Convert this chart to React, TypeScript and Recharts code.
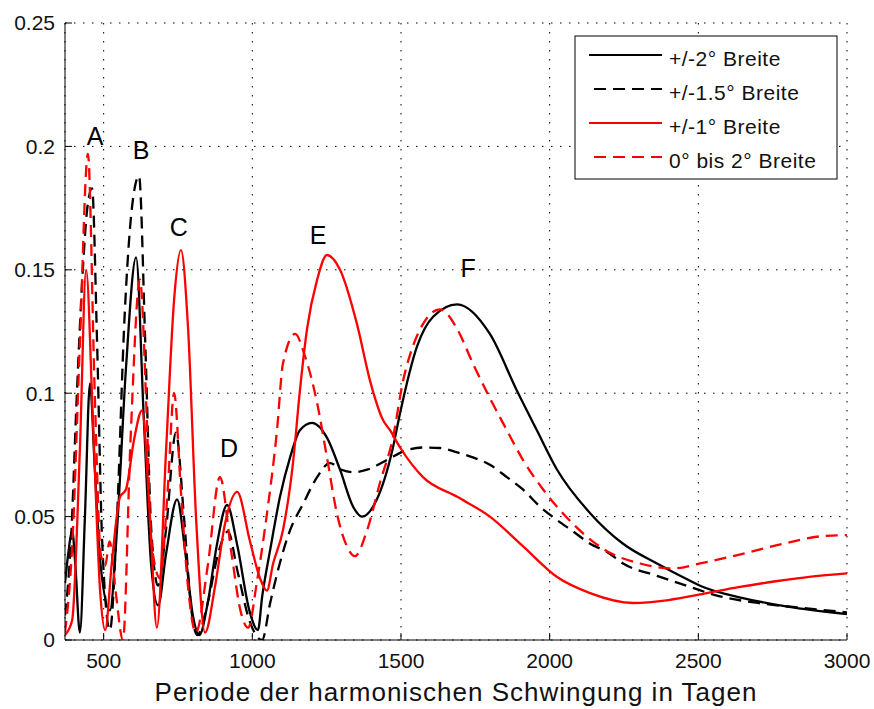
import { LineChart, Line, XAxis, YAxis, CartesianGrid, ReferenceDot } from 'recharts';

const FONT = '"Liberation Sans", Arial, Helvetica, sans-serif';

// axis ticks
const xTicks = [500, 1000, 1500, 2000, 2500, 3000];
const yTicks = [0, 0.05, 0.1, 0.15, 0.2, 0.25];

// +/-2° Breite (solid black)
const deg2Period = [370, 382, 394, 405, 420, 437, 454, 470, 490, 521, 545, 575, 609, 635, 660, 683, 710, 747, 775, 800, 822, 850, 880, 915, 950, 990, 1019, 1033, 1060, 1093, 1127, 1160, 1201, 1251, 1295, 1339, 1369, 1419, 1473, 1497, 1554, 1608, 1689, 1799, 1890, 1957, 2025, 2136, 2247, 2361, 2472, 2506, 2650, 2800, 3000];
const deg2Value = [0.023, 0.036, 0.0445, 0.03, 0.003, 0.05, 0.104, 0.07, 0.03, 0.012, 0.045, 0.11, 0.155, 0.09, 0.03, 0.014, 0.035, 0.057, 0.035, 0.01, 0.002, 0.015, 0.038, 0.0547, 0.038, 0.012, 0.004, 0.0175, 0.0365, 0.058, 0.074, 0.085, 0.088, 0.082, 0.069, 0.054, 0.05, 0.057, 0.078, 0.092, 0.119, 0.131, 0.136, 0.124, 0.101, 0.085, 0.069, 0.0514, 0.039, 0.031, 0.024, 0.022, 0.017, 0.0135, 0.0105];

// +/-1.5° Breite (dashed black)
const deg15Period = [370, 390, 410, 430, 445, 461, 478, 495, 521, 545, 570, 595, 619, 640, 660, 683, 710, 743, 770, 795, 815, 850, 885, 918, 950, 990, 1033, 1060, 1090, 1127, 1170, 1218, 1261, 1300, 1340, 1386, 1453, 1520, 1574, 1631, 1689, 1742, 1799, 1856, 1910, 1968, 2025, 2079, 2136, 2193, 2247, 2361, 2472, 2563, 2700, 2850, 3000];
const deg15Value = [0.01, 0.04, 0.1, 0.15, 0.175, 0.183, 0.12, 0.04, 0.004, 0.05, 0.13, 0.175, 0.188, 0.12, 0.045, 0.022, 0.045, 0.084, 0.05, 0.012, 0.002, 0.015, 0.035, 0.044, 0.028, 0.008, 0.0, 0.015, 0.03, 0.0445, 0.055, 0.066, 0.0717, 0.069, 0.068, 0.069, 0.073, 0.077, 0.078, 0.0778, 0.076, 0.074, 0.071, 0.066, 0.061, 0.054, 0.0486, 0.044, 0.039, 0.0357, 0.031, 0.026, 0.0215, 0.018, 0.015, 0.013, 0.0112];

// +/-1° Breite (solid red)
const deg1Period = [370, 394, 420, 441, 464, 488, 505, 528, 555, 575, 602, 629, 656, 679, 710, 737, 760, 784, 811, 841, 875, 908, 949, 992, 1026, 1049, 1070, 1103, 1137, 1160, 1184, 1218, 1251, 1295, 1352, 1396, 1440, 1463, 1497, 1574, 1689, 1799, 1910, 2025, 2136, 2280, 2400, 2520, 2640, 2760, 2880, 3000];
const deg1Value = [0.002, 0.008, 0.077, 0.15, 0.089, 0.02, 0.004, 0.032, 0.058, 0.061, 0.081, 0.093, 0.049, 0.005, 0.077, 0.138, 0.158, 0.126, 0.049, 0.003, 0.022, 0.047, 0.06, 0.04, 0.025, 0.02, 0.031, 0.0445, 0.072, 0.101, 0.126, 0.146, 0.156, 0.15, 0.128, 0.105, 0.089, 0.085, 0.078, 0.066, 0.058, 0.05, 0.038, 0.0255, 0.019, 0.015, 0.0162, 0.0188, 0.0215, 0.0238, 0.0257, 0.027];

// 0° bis 2° Breite (dashed red)
const deg02Period = [370, 395, 420, 447, 470, 490, 505, 520, 540, 565, 590, 622, 645, 660, 690, 715, 737, 760, 785, 810, 850, 891, 930, 960, 986, 1016, 1049, 1083, 1103, 1144, 1177, 1218, 1251, 1285, 1318, 1345, 1386, 1430, 1473, 1507, 1540, 1574, 1631, 1689, 1742, 1799, 1856, 1910, 1978, 2079, 2193, 2304, 2415, 2506, 2617, 2785, 2910, 3000];
const deg02Value = [0.003, 0.04, 0.12, 0.197, 0.1, 0.035, 0.03, 0.04, 0.02, 0.0, 0.08, 0.146, 0.09, 0.04, 0.025, 0.06, 0.1, 0.06, 0.02, 0.003, 0.03, 0.066, 0.035, 0.012, 0.005, 0.024, 0.051, 0.085, 0.112, 0.124, 0.115, 0.096, 0.074, 0.051, 0.038, 0.034, 0.0445, 0.064, 0.082, 0.105, 0.119, 0.128, 0.134, 0.126, 0.112, 0.098, 0.085, 0.073, 0.061, 0.047, 0.036, 0.031, 0.029, 0.031, 0.034, 0.039, 0.042, 0.0425];

// peak letters
const peakLetters = ['A', 'B', 'C', 'D', 'E', 'F'];
const peakPeriod = [471, 626, 753, 922, 1221, 1726];
const peakValue = [0.2042, 0.1985, 0.1673, 0.0778, 0.164, 0.1507];

const DASH = '12 7';

function toPoints(periods: number[], values: number[]) {
  return periods.map((x, i) => ({ x, y: values[i] }));
}

const series = [
  { name: '+/-2° Breite', data: toPoints(deg2Period, deg2Value), color: '#000000', dash: undefined },
  { name: '+/-1.5° Breite', data: toPoints(deg15Period, deg15Value), color: '#000000', dash: DASH },
  { name: '+/-1° Breite', data: toPoints(deg1Period, deg1Value), color: '#ff0000', dash: undefined },
  { name: '0° bis 2° Breite', data: toPoints(deg02Period, deg02Value), color: '#ff0000', dash: DASH },
];

function LegendBox() {
  const rowY = [55, 89, 123, 157];
  return (
    <svg width={264} height={146} style={{ position: 'absolute', left: 574, top: 35 }}>
      <rect x={1} y={1} width={262} height={143} fill="#fff" stroke="#000" strokeWidth={1} />
      {series.map((s, i) => (
        <g key={s.name}>
          <line x1={15} x2={88} y1={rowY[i] - 35} y2={rowY[i] - 35} stroke={s.color} strokeWidth={2.2}
            strokeDasharray={s.dash} strokeDashoffset={s.dash ? -5 : 0} />
          <text x={95} y={rowY[i] - 35 + 3} dominantBaseline="central" fontSize={21} letterSpacing={0.5}
            fontFamily={FONT} fill="#111">{s.name}</text>
        </g>
      ))}
    </svg>
  );
}

export default function App() {
  const tickStyle = { fontSize: 21, fill: '#111', fontFamily: FONT };
  return (
    <div style={{ position: 'absolute', left: 0, top: 0, width: 874, height: 709, background: '#fff', fontFamily: FONT }}>
      <LineChart width={874} height={709} margin={{ top: 23, right: 27, bottom: 0, left: 0 }}>
        <CartesianGrid stroke="#000" strokeDasharray="1.5 7.5" />
        <XAxis
          dataKey="x"
          type="number"
          domain={[370, 3000]}
          ticks={xTicks}
          allowDataOverflow
          height={69}
          tick={tickStyle}
          tickSize={-7}
          tickMargin={20}
          axisLine={{ stroke: '#000' }}
          tickLine={{ stroke: '#000' }}
          label={{ value: 'Periode der harmonischen Schwingung in Tagen', position: 'insideBottom', offset: 8, fontSize: 26, letterSpacing: 1, fill: '#111', fontFamily: FONT }}
        />
        <XAxis
          xAxisId="top"
          orientation="top"
          type="number"
          domain={[370, 3000]}
          ticks={xTicks}
          allowDataOverflow
          height={0}
          tickSize={-7}
          tickFormatter={() => ''}
          axisLine={{ stroke: '#000' }}
          tickLine={{ stroke: '#000' }}
        />
        <YAxis
          type="number"
          domain={[0, 0.25]}
          ticks={yTicks}
          allowDataOverflow
          width={65}
          tick={tickStyle}
          tickSize={-7}
          tickMargin={17}
          tickFormatter={(v: number) => String(v)}
          axisLine={{ stroke: '#000' }}
          tickLine={{ stroke: '#000' }}
        />
        <YAxis
          yAxisId="right"
          orientation="right"
          type="number"
          domain={[0, 0.25]}
          ticks={yTicks}
          allowDataOverflow
          width={0}
          tickSize={-7}
          tickFormatter={() => ''}
          axisLine={{ stroke: '#000' }}
          tickLine={{ stroke: '#000' }}
        />
        {series.map((s) => (
          <Line
            key={s.name}
            data={s.data}
            dataKey="y"
            type="monotone"
            stroke={s.color}
            strokeWidth={2.3}
            strokeDasharray={s.dash}
            dot={false}
            activeDot={false}
            isAnimationActive={false}
          />
        ))}
        {peakLetters.map((l, i) => (
          <ReferenceDot
            key={l}
            x={peakPeriod[i]}
            y={peakValue[i]}
            r={1}
            fillOpacity={0}
            strokeOpacity={0}
            label={{ value: l, position: 'center', fontSize: 25, fill: '#000', fontFamily: FONT }}
          />
        ))}
      </LineChart>
      <LegendBox />
    </div>
  );
}
